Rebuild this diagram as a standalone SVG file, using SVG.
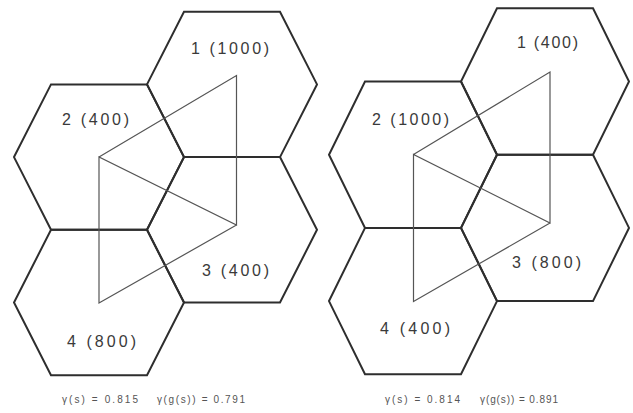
<svg xmlns="http://www.w3.org/2000/svg" width="633" height="413" viewBox="0 0 633 413">
<style>
.hex{fill:none;stroke:#2e2e2e;stroke-width:2;stroke-linejoin:miter}
.lbl{font-family:"Liberation Sans",Arial,sans-serif;font-size:16px;fill:#3a3a3a}
.cap{font-family:"Liberation Sans",Arial,sans-serif;font-size:10px;fill:#555}
.edge{fill:none;stroke:#555;stroke-width:1.2}
</style>
<rect width="633" height="413" fill="#ffffff"/>
<!-- Left figure -->
<g id="L1"><polygon class="hex" points="184,11.7 280,11.7 317,84.4 280,157.1 184,157.1 147,84.4"/><text class="lbl" x="191" y="54" textLength="78">1 (1000)</text></g>
<g id="L2"><polygon class="hex" points="51,84.4 147,84.4 184,157.1 147,229.8 51,229.8 14,157.1"/><text class="lbl" x="62" y="125" textLength="67">2 (400)</text></g>
<g id="L3"><polygon class="hex" points="184,157.1 280,157.1 317,229.8 280,302.5 184,302.5 147,229.8"/><text class="lbl" x="202" y="276" textLength="67">3 (400)</text></g>
<g id="L4"><polygon class="hex" points="51,229.8 147,229.8 184,302.5 147,375.2 51,375.2 14,302.5"/><text class="lbl" x="67" y="347" textLength="69">4 (800)</text></g>
<g id="L-connectors">
<polyline class="edge" points="99,157 236.5,75.5 236.5,225 99,157 99,303 236.5,225"/>
</g>
<text class="cap" x="62" y="403" textLength="76">γ(s) = 0.815</text>
<text class="cap" x="157" y="403" textLength="88">γ(g(s)) = 0.791</text>
<!-- Right figure -->
<g id="R1"><polygon class="hex" points="497,8.3 593,8.3 629,81.5 593,154.7 497,154.7 461,81.5"/><text class="lbl" x="517" y="48" textLength="61">1 (400)</text></g>
<g id="R2"><polygon class="hex" points="365,81.5 461,81.5 497,154.7 461,227.9 365,227.9 329,154.7"/><text class="lbl" x="372" y="125" textLength="77">2 (1000)</text></g>
<g id="R3"><polygon class="hex" points="497,154.7 593,154.7 629,227.9 593,301.1 497,301.1 461,227.9"/><text class="lbl" x="512" y="268" textLength="69">3 (800)</text></g>
<g id="R4"><polygon class="hex" points="365,227.9 461,227.9 497,301.1 461,374.3 365,374.3 329,301.1"/><text class="lbl" x="380" y="334" textLength="70">4 (400)</text></g>
<g id="R-connectors">
<polyline class="edge" points="413.5,154.5 550,72 550,223 413.5,154.5 413.5,301.5 550,223"/>
</g>
<text class="cap" x="385" y="403" textLength="75">γ(s) = 0.814</text>
<text class="cap" x="480" y="403" textLength="78">γ(g(s)) = 0.891</text>
</svg>
